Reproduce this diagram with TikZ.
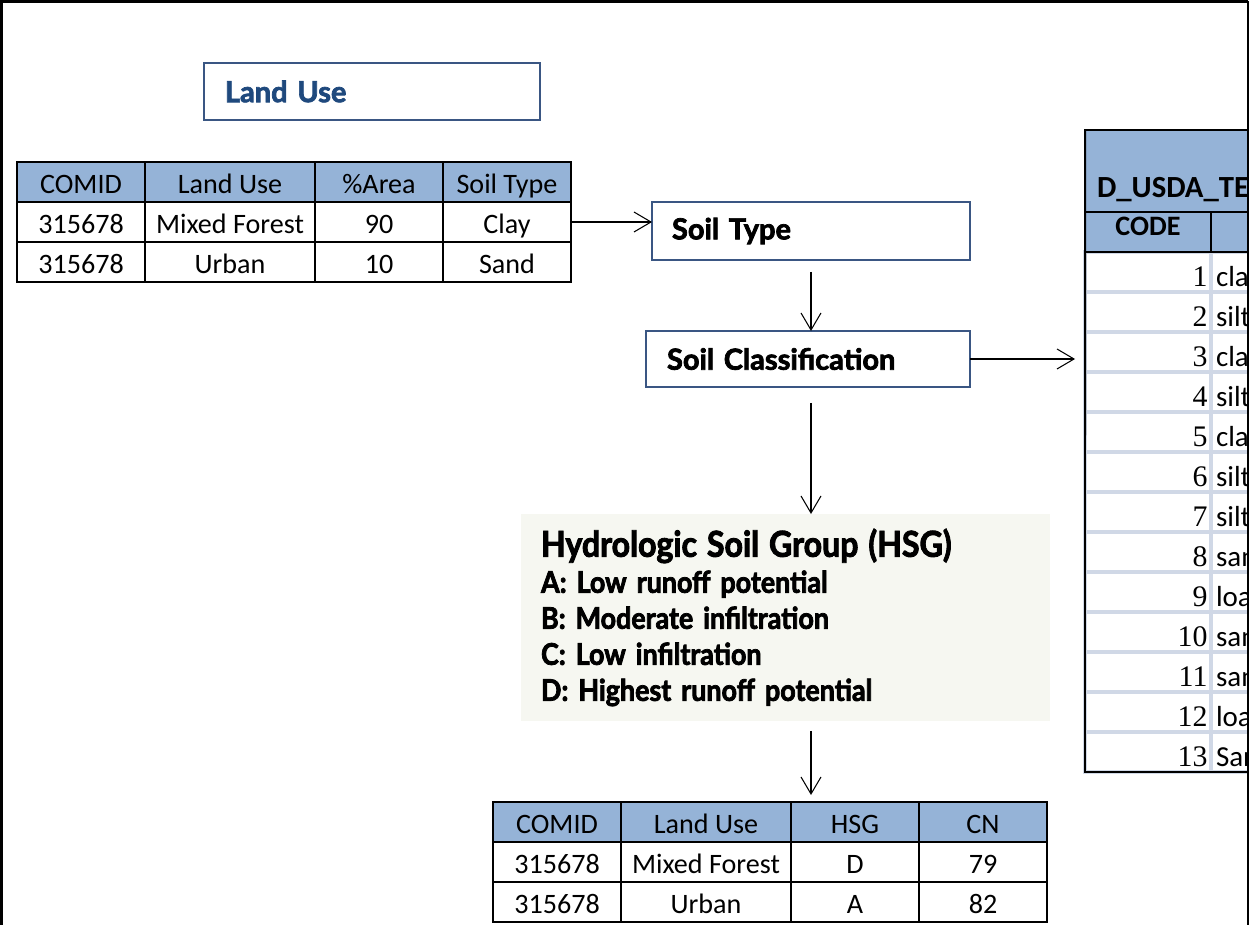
\documentclass[tikz,border=0pt]{standalone}
\usepackage{fontspec}
\setmainfont{Carlito}
\newfontfamily\headfont{Lato}[BoldFeatures={FakeBold=2.5}]
\newfontfamily\hsgfont{Lato}[FakeStretch=0.9, BoldFeatures={FakeBold=2.5}]
\newfontfamily\numfont{Liberation Serif}
\usetikzlibrary{arrows.meta}
\definecolor{hdrblue}{HTML}{95B3D7}
\definecolor{boxblue}{HTML}{3A5683}
\definecolor{titleblue}{HTML}{1F497D}
\definecolor{gridgray}{HTML}{D0D8E6}
\definecolor{hsgfill}{HTML}{F6F7F1}

\begin{document}
\begin{tikzpicture}[x=0.02cm, y=-0.02cm]
\useasboundingbox (0,0) rectangle (1249,925);
\begin{scope}
	\tikzstyle{every node}=[inner sep=0pt, outer sep=0pt, align=center, font=\fontsize{16}{18}\selectfont]
	\tikzstyle{hdr}=[draw, line width=1.1pt, fill=hdrblue, minimum height=0.8cm, text height=13pt, text depth=0pt]
	\tikzstyle{cell}=[draw, line width=1.1pt, minimum height=0.8cm, text height=13pt, text depth=0pt]
	\tikzstyle{stepbox}=[draw=boxblue, line width=1pt, align=left, inner xsep=0.4cm, font=\headfont\bfseries\fontsize{16.5}{19}\selectfont]
	\tikzstyle{codecell}=[draw=gridgray, line width=2pt, text width=2.38cm, inner xsep=0.07cm, minimum height=0.8cm, text height=17pt, text depth=0pt, align=right, font=\numfont\fontsize{17}{18}\selectfont]
	\tikzstyle{namecell}=[draw=gridgray, line width=2pt, text width=5.58cm, inner xsep=0.1cm, minimum height=0.8cm, text height=17pt, text depth=0pt, align=left, font=\fontsize{16.5}{18}\selectfont]
	\tikzstyle{flow}=[line width=0.6pt, -{Straight Barb[length=3.4mm, width=4mm]}]

	\node[stepbox, text=titleblue, text width=5.88cm, inner xsep=0.42cm, minimum height=1.14cm] (lu) at (372,91.5) {Land Use};

	\node[hdr, minimum width=2.56cm] (a11) at (81,182) {COMID};
	\node[hdr, minimum width=3.40cm] (a12) at (230,182) {Land Use};
	\node[hdr, minimum width=2.56cm] (a13) at (379,182) {\%Area};
	\node[hdr, minimum width=2.56cm] (a14) at (507,182) {Soil Type};
	\node[cell, minimum width=2.56cm] (a21) at (81,222) {315678};
	\node[cell, minimum width=3.40cm] (a22) at (230,222) {Mixed Forest};
	\node[cell, minimum width=2.56cm] (a23) at (379,222) {90};
	\node[cell, minimum width=2.56cm] (a24) at (507,222) {Clay};
	\node[cell, minimum width=2.56cm] (a31) at (81,262) {315678};
	\node[cell, minimum width=3.40cm] (a32) at (230,262) {Urban};
	\node[cell, minimum width=2.56cm] (a33) at (379,262) {10};
	\node[cell, minimum width=2.56cm] (a34) at (507,262) {Sand};

	\node[stepbox, text width=5.56cm, minimum height=1.16cm] (st) at (811,231) {Soil Type};
	\node[stepbox, text width=5.64cm, inner xsep=0.42cm, minimum height=1.12cm] (sc) at (808,359) {Soil Classification};

	\node[fill=hsgfill, text width=9.78cm, inner xsep=0.4cm, minimum height=4.14cm, align=left, font=\hsgfont\bfseries\fontsize{17}{20.5}\selectfont] (hsg) at (785.5,617.5)
		{{\fontsize{20.3}{20.5}\selectfont Hydrologic Soil Group (HSG)}\\A: Low runoff potential\\B: Moderate infiltration\\C: Low infiltration\\D: Highest runoff potential};

	\node[hdr, minimum width=2.56cm] (b11) at (557,822) {COMID};
	\node[hdr, minimum width=3.40cm] (b12) at (706,822) {Land Use};
	\node[hdr, minimum width=2.56cm] (b13) at (855,822) {HSG};
	\node[hdr, minimum width=2.56cm] (b14) at (983,822) {CN};
	\node[cell, minimum width=2.56cm] (b21) at (557,862) {315678};
	\node[cell, minimum width=3.40cm] (b22) at (706,862) {Mixed Forest};
	\node[cell, minimum width=2.56cm] (b23) at (855,862) {D};
	\node[cell, minimum width=2.56cm] (b24) at (983,862) {79};
	\node[cell, minimum width=2.56cm] (b31) at (557,902) {315678};
	\node[cell, minimum width=3.40cm] (b32) at (706,902) {Urban};
	\node[cell, minimum width=2.56cm] (b33) at (855,902) {A};
	\node[cell, minimum width=2.56cm] (b34) at (983,902) {82};

	\begin{scope}
		\clip (0,0) rectangle (1247.5,925);
		\node[codecell] (k1) at (1148,272) {1};
		\node[namecell] (n1) at (1355.5,272) {clay (heavy)};
		\node[codecell] (k2) at (1148,312) {2};
		\node[namecell] (n2) at (1355.5,312) {silty clay};
		\node[codecell] (k3) at (1148,352) {3};
		\node[namecell] (n3) at (1355.5,352) {clay};
		\node[codecell] (k4) at (1148,392) {4};
		\node[namecell] (n4) at (1355.5,392) {silty clay loam};
		\node[codecell] (k5) at (1148,432) {5};
		\node[namecell] (n5) at (1355.5,432) {clay loam};
		\node[codecell] (k6) at (1148,472) {6};
		\node[namecell] (n6) at (1355.5,472) {silt};
		\node[codecell] (k7) at (1148,512) {7};
		\node[namecell] (n7) at (1355.5,512) {silt loam};
		\node[codecell] (k8) at (1148,552) {8};
		\node[namecell] (n8) at (1355.5,552) {sandy clay};
		\node[codecell] (k9) at (1148,592) {9};
		\node[namecell] (n9) at (1355.5,592) {loam};
		\node[codecell] (k10) at (1148,632) {10};
		\node[namecell] (n10) at (1355.5,632) {sandy clay loam};
		\node[codecell] (k11) at (1148,672) {11};
		\node[namecell] (n11) at (1355.5,672) {sandy loam};
		\node[codecell] (k12) at (1148,712) {12};
		\node[namecell] (n12) at (1355.5,712) {loamy sand};
		\node[codecell] (k13) at (1148,752) {13};
		\node[namecell] (n13) at (1355.5,752) {Sand};

		\node[fill=hdrblue, draw, line width=1.1pt, minimum width=8.3cm, minimum height=1.64cm] (tt) at (1292.5,171) {};
		\node[anchor=base west, font=\bfseries\fontsize{17.5}{20}\selectfont] (ttl) at (1097,198) {D\_USDA\_TEXTURE};
		\node[hdr, minimum width=2.52cm, text height=8pt, text depth=4pt, font=\bfseries\fontsize{16}{18}\selectfont] (k0) at (1148,232) {CODE};
		\node[hdr, minimum width=5.78cm] (n0) at (1355.5,232) {};
		\draw [line width=1.1pt] (tt.north west) -- (k13.south west) -- (n13.south east);
	\end{scope}

	\draw [flow] (a24.east) -- (a24.east -| st.west);
	\draw [flow, shorten <=0.24cm] (st.south) -- (st.south |- sc.north);
	\draw [flow, shorten >=0.2cm] (sc.east) -- (sc.east -| tt.west);
	\draw [flow, shorten <=0.32cm] (st.south |- sc.south) -- (st.south |- hsg.north);
	\draw [flow, shorten <=0.2cm, shorten >=0.14cm] (st.south |- hsg.south) -- (st.south |- b12.north);

	\draw [line width=1.2pt] (1.5,925) -- (1.5,1.5) -- (1248,1.5);
	\draw [line width=0.6pt] (1248,1.5) -- (1248,925);
\end{scope}
\end{tikzpicture}
\end{document}
